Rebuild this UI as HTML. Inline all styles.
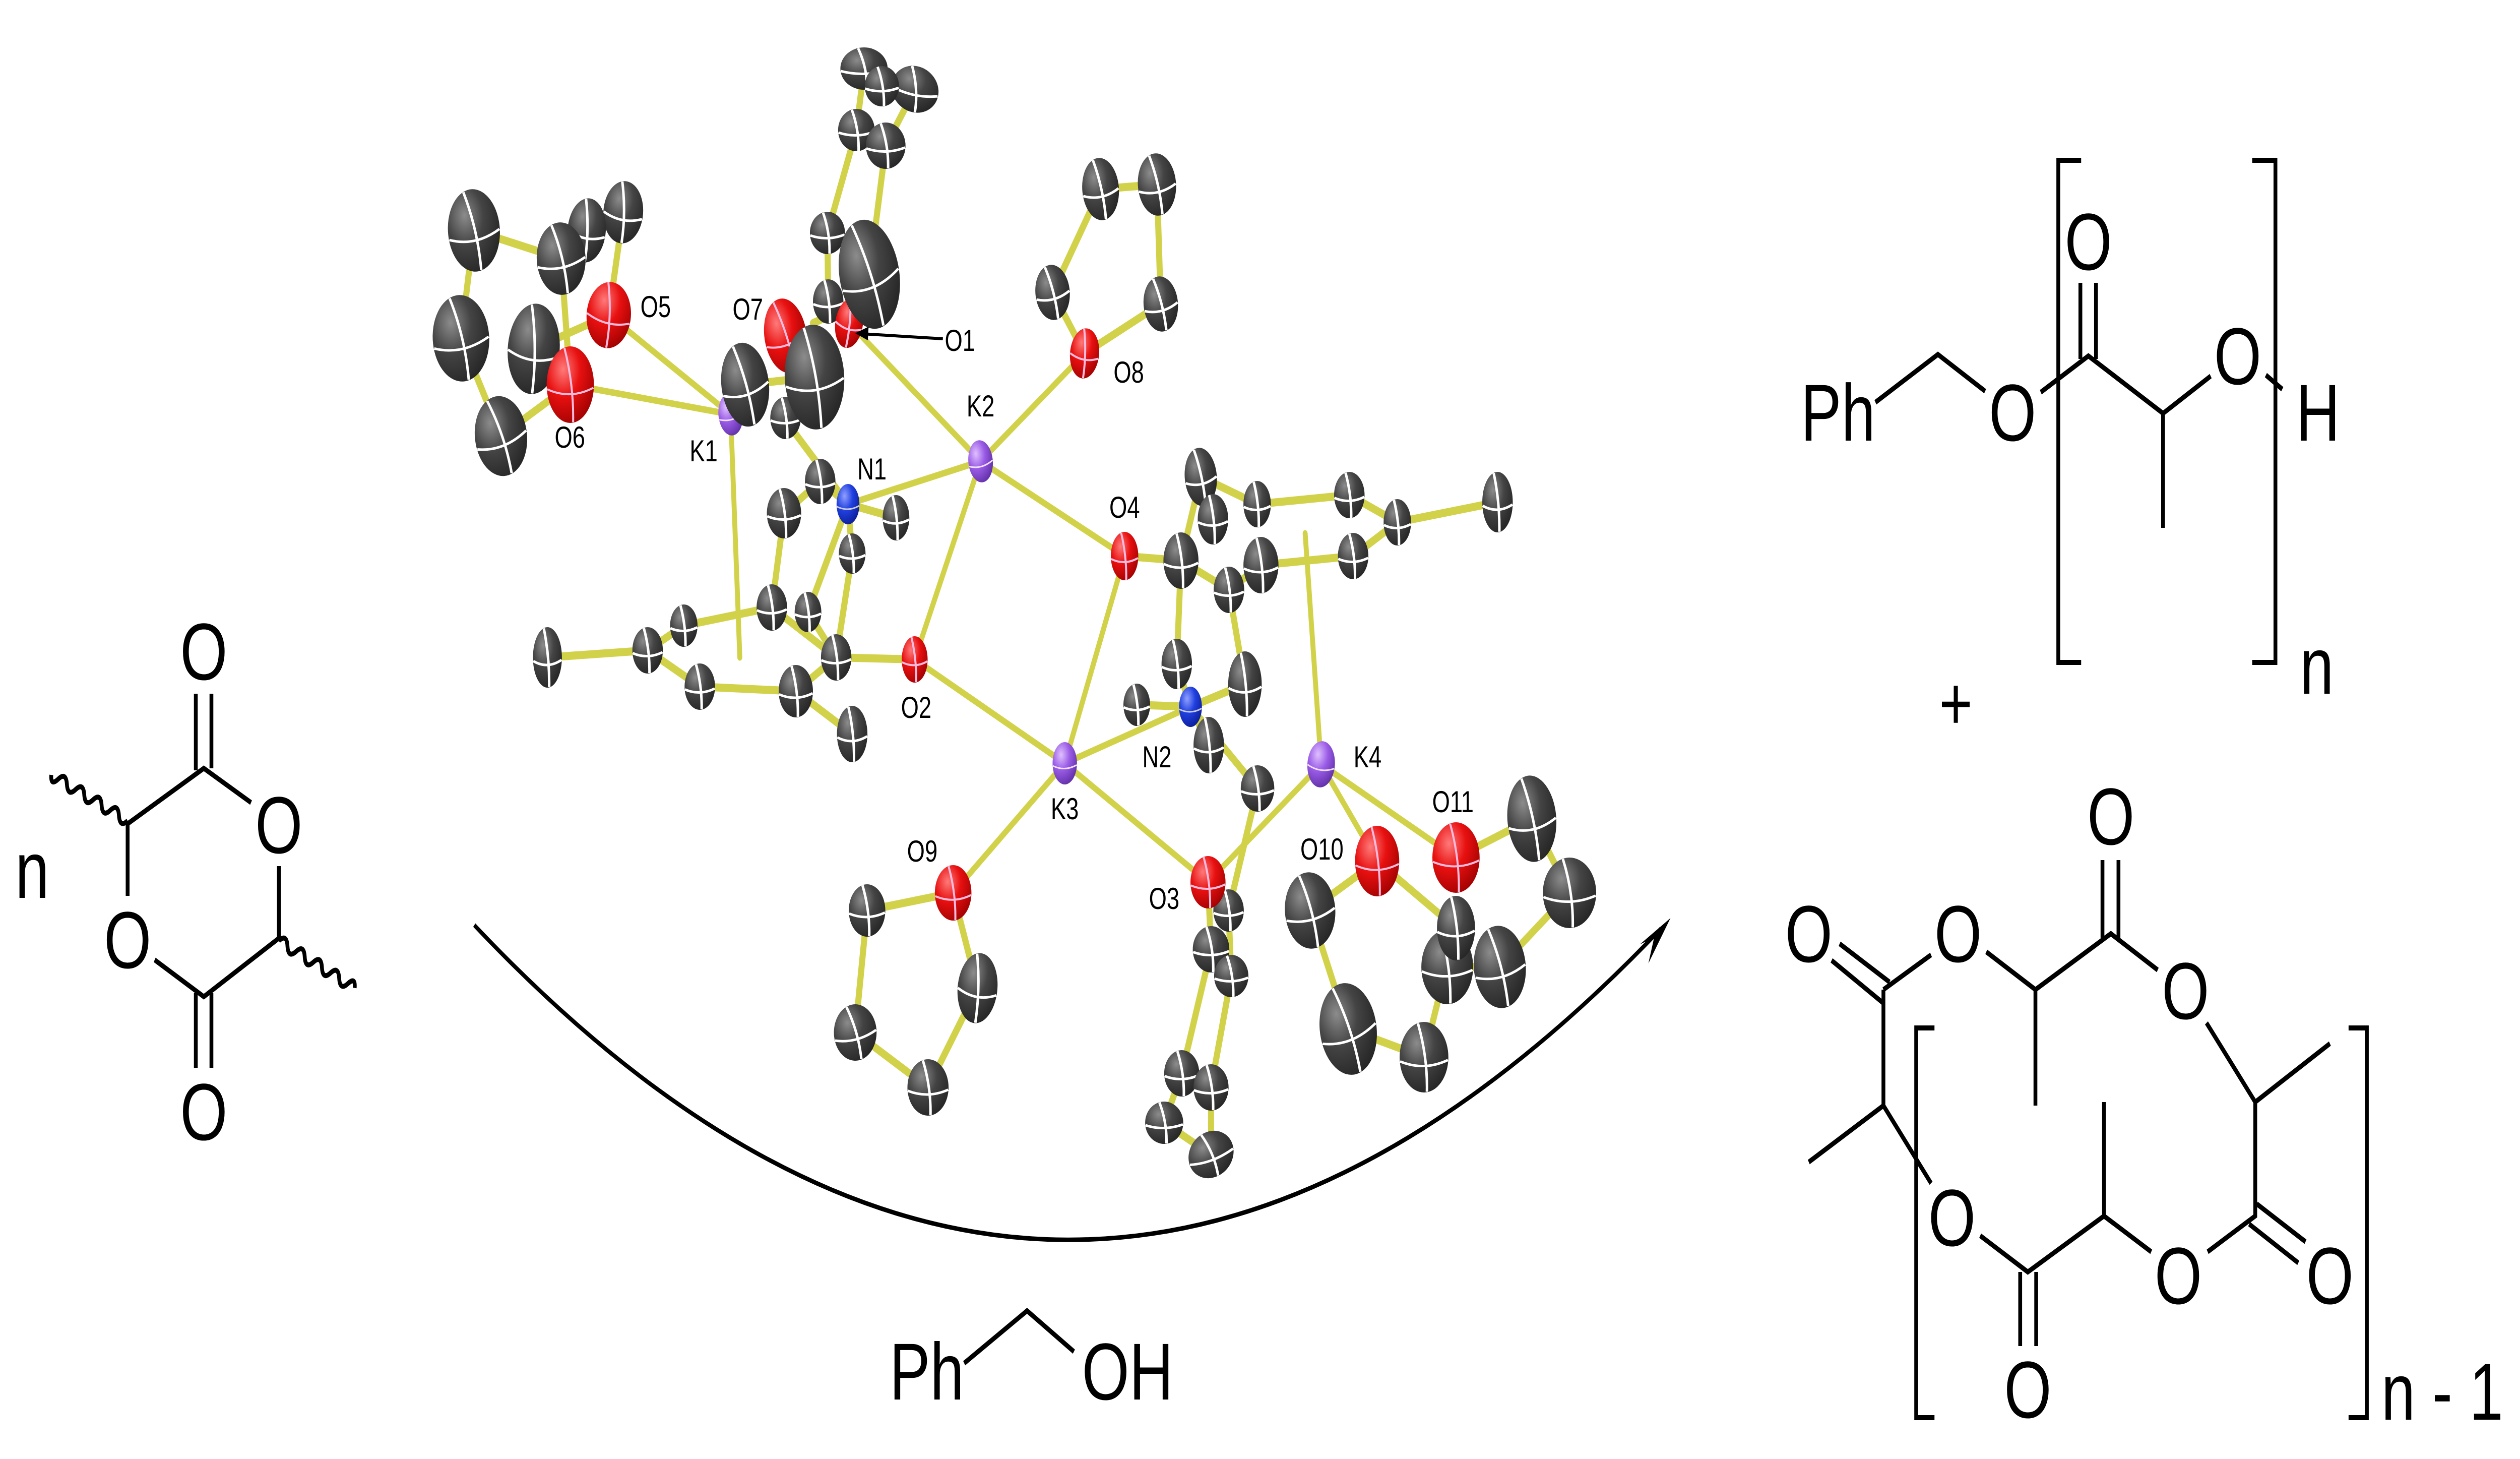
<!DOCTYPE html>
<html><head><meta charset="utf-8"><style>html,body{margin:0;padding:0;background:#fff;overflow:hidden;width:100%;height:100%}svg{display:block;width:100vw;height:100vh}</style></head><body>
<svg xmlns="http://www.w3.org/2000/svg" xmlns:xlink="http://www.w3.org/1999/xlink" viewBox="0 0 6615 2894" preserveAspectRatio="none">
<defs>
<radialGradient id="gC" cx="0.35" cy="0.3" r="0.8"><stop offset="0" stop-color="#8c8c8c"/><stop offset="0.45" stop-color="#444"/><stop offset="1" stop-color="#222"/></radialGradient>
<radialGradient id="gO" cx="0.35" cy="0.3" r="0.8"><stop offset="0" stop-color="#ff7a7a"/><stop offset="0.45" stop-color="#e81010"/><stop offset="1" stop-color="#9a0000"/></radialGradient>
<radialGradient id="gK" cx="0.35" cy="0.3" r="0.8"><stop offset="0" stop-color="#e0c0ff"/><stop offset="0.45" stop-color="#9a5ce6"/><stop offset="1" stop-color="#5a2aa0"/></radialGradient>
<radialGradient id="gN" cx="0.35" cy="0.3" r="0.8"><stop offset="0" stop-color="#90a0ff"/><stop offset="0.45" stop-color="#2040e0"/><stop offset="1" stop-color="#0a1a90"/></radialGradient>
<g id="C"><circle r="1" fill="url(#gC)"/><path d="M-0.98,0.12 Q0,0.4 0.98,0.08 M-0.25,-0.96 Q0.15,0 0.12,0.98" stroke="#fff" stroke-width="5" vector-effect="non-scaling-stroke" fill="none"/></g>
<g id="O"><circle r="1" fill="url(#gO)"/><path d="M-0.98,0.12 Q0,0.4 0.98,0.08 M-0.25,-0.96 Q0.15,0 0.12,0.98" stroke="#fbd" stroke-width="4" vector-effect="non-scaling-stroke" fill="none"/></g>
<g id="K"><circle r="1" fill="url(#gK)"/><path d="M-0.98,0.12 Q0,0.4 0.98,0.08" stroke="#f0e0ff" stroke-width="3" vector-effect="non-scaling-stroke" fill="none"/></g>
<g id="N"><circle r="1" fill="url(#gN)"/><path d="M-0.98,0.12 Q0,0.4 0.98,0.08" stroke="#ccd" stroke-width="3" vector-effect="non-scaling-stroke" fill="none"/></g>
</defs>

<g stroke="#d2d24a" stroke-linecap="round" fill="none">
<g stroke-width="13">
<line x1="1918" y1="822" x2="1598" y2="625"/><line x1="1918" y1="822" x2="1497" y2="763"/><line x1="1918" y1="822" x2="1942" y2="1304"/>
<line x1="2574" y1="915" x2="2229" y2="641"/><line x1="2574" y1="915" x2="2847" y2="701"/><line x1="2574" y1="915" x2="2226" y2="1000"/>
<line x1="2574" y1="915" x2="2401" y2="1308"/><line x1="2574" y1="915" x2="2952" y2="1103"/>
<line x1="2795" y1="1514" x2="2401" y2="1308"/><line x1="2795" y1="1514" x2="3125" y2="1402"/><line x1="2795" y1="1514" x2="2952" y2="1103"/>
<line x1="2795" y1="1514" x2="2502" y2="1771"/><line x1="2795" y1="1514" x2="3171" y2="1750"/>
<line x1="3468" y1="1516" x2="3171" y2="1750"/><line x1="3468" y1="1516" x2="3615" y2="1708"/><line x1="3468" y1="1516" x2="3822" y2="1701"/><line x1="3468" y1="1516" x2="3426" y2="1058"/>
</g>
<g stroke-width="16">
<line x1="1244" y1="457" x2="1473" y2="513"/><line x1="1244" y1="457" x2="1210" y2="671"/><line x1="1210" y1="671" x2="1315" y2="865"/><line x1="1315" y1="865" x2="1497" y2="763"/>
<line x1="1497" y1="763" x2="1473" y2="513"/><line x1="1598" y1="625" x2="1636" y2="421"/><line x1="1598" y1="625" x2="1401" y2="692"/><line x1="1540" y1="457" x2="1636" y2="421"/>
<line x1="2268" y1="136" x2="2315" y2="171"/><line x1="2315" y1="171" x2="2402" y2="177"/><line x1="2268" y1="136" x2="2248" y2="258"/><line x1="2402" y1="177" x2="2325" y2="289"/>
<line x1="2248" y1="258" x2="2172" y2="462"/><line x1="2325" y1="289" x2="2282" y2="544"/><line x1="2172" y1="462" x2="2174" y2="598"/>
<line x1="2229" y1="641" x2="2282" y2="544"/><line x1="2134" y1="641" x2="2239" y2="605"/><line x1="1956" y1="763" x2="2138" y2="748"/><line x1="2062" y1="666" x2="2138" y2="748"/>
<line x1="2226" y1="1000" x2="2058" y2="830"/><line x1="2226" y1="1000" x2="2153" y2="955"/><line x1="2226" y1="1000" x2="2352" y2="1027"/><line x1="2226" y1="1000" x2="2237" y2="1098"/>
<line x1="2226" y1="1000" x2="2121" y2="1214"/><line x1="2237" y1="1098" x2="2195" y2="1304"/><line x1="2058" y1="1018" x2="2026" y2="1205"/><line x1="2153" y1="955" x2="2058" y2="1018"/>
<line x1="2401" y1="1308" x2="2195" y2="1304"/><line x1="1795" y1="1241" x2="2026" y2="1205"/><line x1="2026" y1="1205" x2="2195" y2="1304"/><line x1="2195" y1="1304" x2="2089" y2="1371"/>
<line x1="2089" y1="1371" x2="1837" y2="1362"/><line x1="1837" y1="1362" x2="1700" y2="1290"/><line x1="1700" y1="1290" x2="1795" y2="1241"/><line x1="1700" y1="1290" x2="1437" y2="1304"/>
<line x1="2089" y1="1371" x2="2237" y2="1456"/><line x1="2121" y1="1214" x2="2195" y2="1304"/>
<line x1="2952" y1="1103" x2="3100" y2="1112"/><line x1="3100" y1="1112" x2="3226" y2="1170"/><line x1="3226" y1="1170" x2="3310" y2="1121"/><line x1="3310" y1="1121" x2="3552" y2="1103"/>
<line x1="3552" y1="1103" x2="3668" y2="1036"/><line x1="3668" y1="1036" x2="3542" y2="982"/><line x1="3542" y1="982" x2="3300" y2="1000"/><line x1="3300" y1="1000" x2="3152" y2="946"/>
<line x1="3668" y1="1036" x2="3931" y2="996"/><line x1="3152" y1="946" x2="3100" y2="1112"/><line x1="3226" y1="1170" x2="3268" y2="1357"/><line x1="3100" y1="1112" x2="3089" y2="1317"/>
<line x1="3125" y1="1402" x2="3089" y2="1317"/><line x1="3125" y1="1402" x2="2984" y2="1398"/><line x1="3125" y1="1402" x2="3268" y2="1357"/><line x1="3125" y1="1402" x2="3173" y2="1478"/>
<line x1="3125" y1="1402" x2="3301" y2="1564"/><line x1="3301" y1="1564" x2="3225" y2="1806"/><line x1="3171" y1="1750" x2="3225" y2="1806"/><line x1="3171" y1="1750" x2="3179" y2="1883"/>
<line x1="3225" y1="1806" x2="3232" y2="1936"/><line x1="3179" y1="1883" x2="3102" y2="2129"/><line x1="3232" y1="1936" x2="3179" y2="2157"/><line x1="3102" y1="2129" x2="3056" y2="2227"/>
<line x1="3179" y1="2157" x2="3179" y2="2290"/><line x1="3056" y1="2227" x2="3179" y2="2290"/>
<line x1="2502" y1="1771" x2="2276" y2="1806"/><line x1="2502" y1="1771" x2="2566" y2="1960"/><line x1="2276" y1="1806" x2="2245" y2="2048"/><line x1="2245" y1="2048" x2="2436" y2="2157"/><line x1="2436" y1="2157" x2="2566" y2="1960"/>
<line x1="3615" y1="1708" x2="3439" y2="1806"/><line x1="3439" y1="1806" x2="3539" y2="2041"/><line x1="3539" y1="2041" x2="3738" y2="2097"/><line x1="3738" y1="2097" x2="3822" y2="1841"/><line x1="3822" y1="1841" x2="3615" y2="1708"/>
<line x1="3822" y1="1701" x2="4021" y2="1624"/><line x1="4021" y1="1624" x2="4120" y2="1771"/><line x1="4120" y1="1771" x2="3937" y2="1918"/><line x1="3937" y1="1918" x2="3799" y2="1918"/>
<line x1="2847" y1="701" x2="2763" y2="580"/><line x1="2847" y1="701" x2="3047" y2="603"/><line x1="2763" y1="580" x2="2889" y2="375"/><line x1="3047" y1="603" x2="3037" y2="366"/><line x1="2889" y1="375" x2="3037" y2="366"/>
</g></g>

<g>
<use xlink:href="#C" transform="translate(2268,136) scale(62,42)"/>
<use xlink:href="#C" transform="translate(2402,177) rotate(10) scale(62,46)"/>
<use xlink:href="#C" transform="translate(2315,171) scale(45,40)"/>
<use xlink:href="#C" transform="translate(2248,258) scale(48,42)"/>
<use xlink:href="#C" transform="translate(2325,289) scale(52,46)"/>
<use xlink:href="#C" transform="translate(2889,375) rotate(-8) scale(48,62)"/>
<use xlink:href="#C" transform="translate(3037,366) rotate(-8) scale(50,62)"/>
<use xlink:href="#C" transform="translate(2763,580) rotate(-10) scale(45,55)"/>
<use xlink:href="#C" transform="translate(3047,603) rotate(-10) scale(45,55)"/>
<use xlink:href="#C" transform="translate(1244,457) rotate(-8) scale(68,82)"/>
<use xlink:href="#C" transform="translate(1636,421) rotate(10) scale(52,62)"/>
<use xlink:href="#C" transform="translate(1540,457) rotate(10) scale(50,64)"/>
<use xlink:href="#C" transform="translate(1473,513) rotate(-8) scale(64,72)"/>
<use xlink:href="#C" transform="translate(1210,671) rotate(-8) scale(74,86)"/>
<use xlink:href="#C" transform="translate(1401,692) rotate(8) scale(68,90)"/>
<use xlink:href="#C" transform="translate(1315,865) rotate(-15) scale(68,80)"/>
<use xlink:href="#C" transform="translate(2172,462) scale(46,42)"/>
<use xlink:href="#C" transform="translate(2174,598) scale(40,44)"/>
<use xlink:href="#O" transform="translate(2229,641) rotate(15) scale(36,50)"/>
<use xlink:href="#O" transform="translate(2062,666) rotate(-15) scale(55,75)"/>
<use xlink:href="#C" transform="translate(2282,544) rotate(-15) scale(78,110)"/>
<use xlink:href="#O" transform="translate(1598,625) rotate(12) scale(58,66)"/>
<use xlink:href="#O" transform="translate(1497,763) scale(62,76)"/>
<use xlink:href="#C" transform="translate(2062,829) scale(40,42)"/>
<use xlink:href="#K" transform="translate(1918,822) rotate(-10) scale(32,42)"/>
<use xlink:href="#C" transform="translate(1956,763) rotate(-12) scale(62,84)"/>
<use xlink:href="#C" transform="translate(2138,748) rotate(-5) scale(78,104)"/>
<use xlink:href="#C" transform="translate(2153,955) scale(40,45)"/>
<use xlink:href="#C" transform="translate(2058,1018) scale(45,50)"/>
<use xlink:href="#C" transform="translate(2352,1027) scale(35,45)"/>
<use xlink:href="#C" transform="translate(2237,1098) scale(35,40)"/>
<use xlink:href="#N" transform="translate(2226,1000) scale(30,40)"/>
<use xlink:href="#K" transform="translate(2574,915) rotate(-10) scale(32,42)"/>
<use xlink:href="#O" transform="translate(2847,701) rotate(10) scale(38,50)"/>
<use xlink:href="#C" transform="translate(1437,1304) scale(38,60)"/>
<use xlink:href="#C" transform="translate(1795,1241) scale(36,42)"/>
<use xlink:href="#C" transform="translate(1700,1290) scale(40,46)"/>
<use xlink:href="#C" transform="translate(1837,1362) scale(40,46)"/>
<use xlink:href="#C" transform="translate(2026,1205) scale(40,46)"/>
<use xlink:href="#C" transform="translate(2121,1214) scale(35,40)"/>
<use xlink:href="#C" transform="translate(2089,1371) scale(45,52)"/>
<use xlink:href="#C" transform="translate(2195,1304) scale(40,46)"/>
<use xlink:href="#C" transform="translate(2237,1456) scale(40,56)"/>
<use xlink:href="#O" transform="translate(2401,1308) scale(34,46)"/>
<use xlink:href="#C" transform="translate(3152,946) rotate(-8) scale(42,58)"/>
<use xlink:href="#C" transform="translate(3300,1000) scale(36,46)"/>
<use xlink:href="#C" transform="translate(3542,982) scale(40,46)"/>
<use xlink:href="#C" transform="translate(3668,1036) scale(36,46)"/>
<use xlink:href="#C" transform="translate(3931,996) scale(40,60)"/>
<use xlink:href="#C" transform="translate(3552,1103) scale(40,46)"/>
<use xlink:href="#C" transform="translate(3100,1112) scale(46,56)"/>
<use xlink:href="#C" transform="translate(3310,1121) scale(46,56)"/>
<use xlink:href="#C" transform="translate(3226,1170) scale(40,46)"/>
<use xlink:href="#C" transform="translate(3184,1030) scale(40,50)"/>
<use xlink:href="#O" transform="translate(2952,1103) scale(36,48)"/>
<use xlink:href="#C" transform="translate(3089,1317) scale(40,50)"/>
<use xlink:href="#C" transform="translate(2984,1398) scale(35,42)"/>
<use xlink:href="#C" transform="translate(3268,1357) scale(44,65)"/>
<use xlink:href="#C" transform="translate(3173,1478) scale(40,56)"/>
<use xlink:href="#N" transform="translate(3125,1402) scale(30,40)"/>
<use xlink:href="#C" transform="translate(3301,1564) scale(44,46)"/>
<use xlink:href="#K" transform="translate(2795,1514) scale(32,42)"/>
<use xlink:href="#K" transform="translate(3468,1516) rotate(8) scale(36,46)"/>
<use xlink:href="#C" transform="translate(2276,1806) scale(48,52)"/>
<use xlink:href="#C" transform="translate(2566,1960) rotate(10) scale(52,70)"/>
<use xlink:href="#C" transform="translate(2245,2048) rotate(-10) scale(56,56)"/>
<use xlink:href="#C" transform="translate(2436,2157) scale(54,56)"/>
<use xlink:href="#O" transform="translate(2502,1771) scale(48,55)"/>
<use xlink:href="#C" transform="translate(3225,1806) scale(40,42)"/>
<use xlink:href="#C" transform="translate(3179,1883) scale(48,46)"/>
<use xlink:href="#C" transform="translate(3232,1936) scale(45,42)"/>
<use xlink:href="#O" transform="translate(3171,1750) scale(46,52)"/>
<use xlink:href="#C" transform="translate(3102,2129) scale(46,46)"/>
<use xlink:href="#C" transform="translate(3179,2157) scale(46,46)"/>
<use xlink:href="#C" transform="translate(3056,2227) scale(50,42)"/>
<use xlink:href="#C" transform="translate(3179,2290) rotate(-15) scale(60,46)"/>
<use xlink:href="#C" transform="translate(3439,1806) rotate(-10) scale(66,76)"/>
<use xlink:href="#C" transform="translate(3539,2041) rotate(-15) scale(74,92)"/>
<use xlink:href="#C" transform="translate(3738,2097) scale(64,70)"/>
<use xlink:href="#C" transform="translate(3799,1918) scale(68,74)"/>
<use xlink:href="#C" transform="translate(3937,1918) rotate(-10) scale(68,82)"/>
<use xlink:href="#C" transform="translate(3822,1841) scale(50,64)"/>
<use xlink:href="#C" transform="translate(4021,1624) rotate(-8) scale(64,86)"/>
<use xlink:href="#C" transform="translate(4120,1771) scale(70,70)"/>
<use xlink:href="#O" transform="translate(3615,1708) scale(58,70)"/>
<use xlink:href="#O" transform="translate(3822,1701) scale(62,70)"/>
</g>

<g font-family="'Liberation Sans', sans-serif" font-size="60" fill="#000" text-anchor="middle">
<text x="1847" y="915">K1</text><text x="2574" y="826">K2</text><text x="2795" y="1625">K3</text><text x="3590" y="1522">K4</text>
<text x="2289" y="951">N1</text><text x="3037" y="1522">N2</text>
<text x="1721" y="629">O5</text><text x="1496" y="888">O6</text><text x="1963" y="634">O7</text><text x="2963" y="759">O8</text>
<text x="2952" y="1027">O4</text><text x="2405" y="1424">O2</text><text x="2421" y="1709">O9</text><text x="3056" y="1803">O3</text>
<text x="3470" y="1705">O10</text><text x="3814" y="1611">O11</text>
<text x="2520" y="696">O1</text>
</g>
<line x1="2475" y1="672" x2="2262" y2="662" stroke="#000" stroke-width="6"/>
<polygon points="2245,661 2280,648 2278,675" fill="#000"/>

<path d="M1245,1835 Q2800,3080 4360,1842" fill="none" stroke="#000" stroke-width="9"/>
<polygon points="4385,1821 4327,1911 4342,1860 4305,1873" fill="#000"/>

<g font-family="'Liberation Sans', sans-serif" font-size="160" fill="#000">
<text x="40" y="1781">n</text>
<g text-anchor="middle"><text x="535" y="1348">O</text><text x="732" y="1692">O</text><text x="335" y="1920">O</text><text x="535" y="2261">O</text></g>
<text x="2335" y="2776">Ph</text><text x="2840" y="2776">OH</text>
<text x="4727" y="874">Ph</text>
<g text-anchor="middle"><text x="5283" y="874">O</text><text x="5482" y="535">O</text><text x="5874" y="762">O</text></g>
<text x="6027" y="874">H</text>
<text x="6037" y="1376">n</text>
<text x="5134" y="1447" text-anchor="middle" font-size="150">+</text>
<g text-anchor="middle">
<text x="4748" y="1908">O</text><text x="5140" y="1908">O</text><text x="5541" y="1675">O</text><text x="5737" y="2021">O</text>
<text x="6116" y="2586">O</text><text x="5718" y="2586">O</text><text x="5124" y="2471">O</text><text x="5323" y="2812">O</text>
</g>
<text x="6251" y="2816">n - 1</text>
</g>

<g stroke="#000" stroke-width="10" fill="none" stroke-linejoin="miter">
<path d="M514,1376V1528M555,1376V1524"/>
<path d="M335,1634L535,1524L659,1592M732,1718V1861L535,1977L406,1904M335,1777V1634"/>
<path d="M514,1970V2118M555,1970V2118"/>
<path transform="translate(335,1628) rotate(204.4)" d="M0,0 q12.5,-22 25,0 t25,0 t25,0 t25,0 t25,0 t25,0 t25,0 t25,0 t20,0"/>
<path transform="translate(732,1866) rotate(25.2)" d="M0,0 q12.5,-22 25,0 t25,0 t25,0 t25,0 t25,0 t25,0 t25,0 t25,0 t20,0"/>
<path d="M2531,2704L2696,2600L2819,2681"/>
<path d="M4923,798L5087,703L5211,776M5357,778L5482,706L5678,820L5803,746M5678,820V1047M5948,744L5991,772"/>
<path d="M5461,561V712M5502,561V712"/>
<path d="M5463,318H5403V1314H5463M5912,318H5973V1314H5912"/>
<path d="M4829,1872L4960,1948M4808,1905L4944,1990"/>
<path d="M4944,1963L5069,1894M5214,1888L5343,1963L5541,1852L5664,1924M5343,1963V2193"/>
<path d="M5519,1706V1860M5561,1706V1860"/>
<path d="M5792,2029L5920,2186L6116,2070M5920,2186V2412L5795,2483M5924,2388L6052,2463M5904,2428L6033,2505"/>
<path d="M5647,2483L5523,2412L5323,2523L5198,2451M5523,2412V2186"/>
<path d="M5303,2523V2670M5345,2523V2670"/>
<path d="M5069,2347L4944,2193V1963M4944,2193L4748,2305"/>
<path d="M5078,2039H5030V2812H5078M6165,2039H6213V2812H6165"/>
</g>
</svg>
</body></html>
